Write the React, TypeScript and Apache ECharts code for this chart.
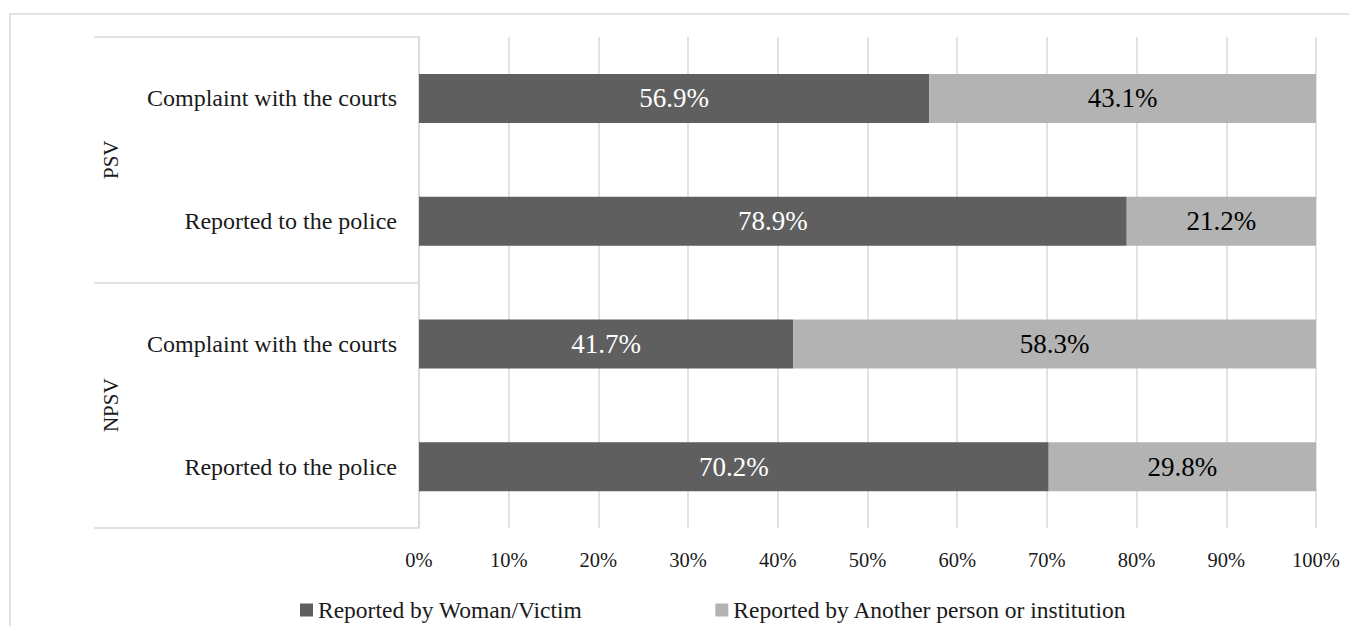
import React, { useEffect, useRef } from "react";
import * as echarts from "echarts";

const groups = ["PSV", "NPSV"];
const categoryGroup = ["PSV", "PSV", "NPSV", "NPSV"];
const subCategories = [
  "Complaint with the courts",
  "Reported to the police",
  "Complaint with the courts",
  "Reported to the police",
];
const seriesNames = ["Reported by Woman/Victim", "Reported by Another person or institution"];
const womanVictim = [56.9, 78.9, 41.7, 70.2];
const anotherPerson = [43.1, 21.2, 58.3, 29.8];
const xMin = 0;
const xMax = 100;
const xInterval = 10;

const FONT = "Liberation Serif";
const GRID = "#d9d9d9";
const TEXT = "#1a1a1a";

export default function App() {
  const ref = useRef<HTMLDivElement>(null);
  useEffect(() => {
    if (!ref.current) return;
    const chart = echarts.init(ref.current, undefined, { renderer: "svg" });
    const keys = subCategories.map((s, i) => `${categoryGroup[i]}|${s}`);
    const barLabel = (color: string) => ({
      show: true,
      position: "inside",
      color,
      fontFamily: FONT,
      fontStyle: "normal",
      fontWeight: "normal",
      fontSize: 27,
      textBorderWidth: 0,
      formatter: (p: any) => `${Number(p.value).toFixed(1)}%`,
    });
    chart.setOption({
      animation: false,
      backgroundColor: "#ffffff",
      textStyle: { fontFamily: FONT, color: TEXT },
      graphic: [
        {
          type: "rect",
          z: 0,
          silent: true,
          shape: { x: 10, y: 14, width: 1500, height: 800 },
          style: { fill: "none", stroke: GRID, lineWidth: 1.5 },
        },
      ],
      grid: { left: 419, right: 33, top: 37, bottom: 98, containLabel: false },
      legend: {
        left: 295,
        top: 593,
        itemWidth: 13,
        itemHeight: 13,
        itemGap: 133,
        icon: "rect",
        textStyle: { fontFamily: FONT, fontSize: 23.5, color: TEXT },
        data: seriesNames,
      },
      xAxis: {
        type: "value",
        min: xMin,
        max: xMax,
        interval: xInterval,
        axisLine: { show: false },
        axisTick: { show: false },
        splitLine: { show: true, lineStyle: { color: GRID, width: 1.5 } },
        axisLabel: {
          formatter: "{value}%",
          margin: 21,
          fontFamily: FONT,
          fontSize: 20.5,
          color: TEXT,
        },
      },
      yAxis: [
        {
          type: "category",
          inverse: true,
          position: "left",
          data: keys,
          axisLine: { show: true, lineStyle: { color: GRID, width: 1.5 } },
          axisTick: { show: false },
          axisLabel: {
            margin: 22,
            fontFamily: FONT,
            fontSize: 24,
            color: TEXT,
            formatter: (v: string) => v.split("|")[1],
          },
        },
        {
          type: "category",
          inverse: true,
          position: "left",
          data: groups,
          axisLine: { show: false },
          axisTick: {
            show: true,
            length: 325,
            lineStyle: { color: GRID, width: 1.5 },
          },
          axisLabel: {
            rotate: 90,
            margin: 298,
            fontFamily: FONT,
            fontSize: 21,
            color: TEXT,
          },
          splitLine: { show: false },
        },
      ],
      series: [
        {
          name: seriesNames[0],
          type: "bar",
          stack: "total",
          yAxisIndex: 0,
          barWidth: 49,
          itemStyle: { color: "#5f5f5f" },
          label: barLabel("#ffffff"),
          data: womanVictim,
        },
        {
          name: seriesNames[1],
          type: "bar",
          stack: "total",
          yAxisIndex: 0,
          barWidth: 49,
          itemStyle: { color: "#b3b3b3" },
          label: barLabel("#000000"),
          data: anotherPerson,
        },
      ],
    });
    return () => chart.dispose();
  }, []);
  return (
    <div
      ref={ref}
      style={{ position: "absolute", left: 0, top: 0, width: 1349, height: 626 }}
    />
  );
}
